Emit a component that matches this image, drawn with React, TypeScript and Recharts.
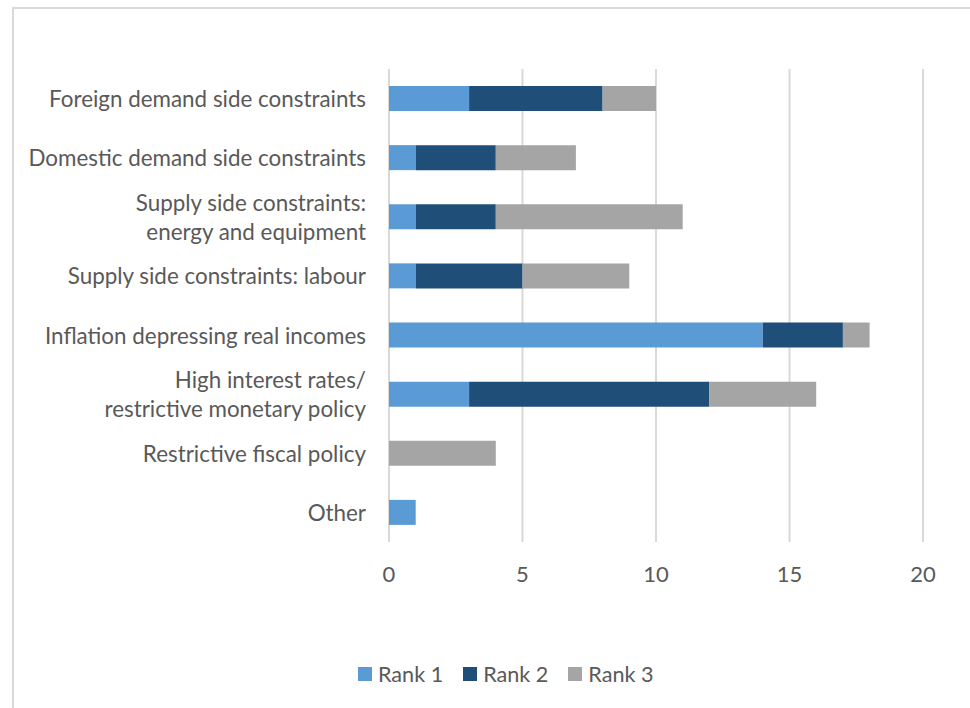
import { BarChart, Bar, XAxis, YAxis, CartesianGrid } from 'recharts';

const categories = [
  'Foreign demand side constraints',
  'Domestic demand side constraints',
  'Supply side constraints:\nenergy and equipment',
  'Supply side constraints: labour',
  'Inflation depressing real incomes',
  'High interest rates/\nrestrictive monetary policy',
  'Restrictive fiscal policy',
  'Other',
];

const rank1 = [3, 1, 1, 1, 14, 3, 0, 1];
const rank2 = [5, 3, 3, 4, 3, 9, 0, 0];
const rank3 = [2, 3, 7, 4, 1, 4, 4, 0];

const xTicks = [0, 5, 10, 15, 20];

const series = [
  { key: 'rank1', name: 'Rank 1', color: '#5B9BD5' },
  { key: 'rank2', name: 'Rank 2', color: '#1F4E79' },
  { key: 'rank3', name: 'Rank 3', color: '#A5A5A5' },
];

const data = categories.map((name, i) => ({
  name,
  rank1: rank1[i],
  rank2: rank2[i],
  rank3: rank3[i],
}));

const FONT = 'Lato, "Open Sans", sans-serif';
const TEXT = '#595959';
const FS = 22.4;

function CategoryTick({ x, y, payload }: { x?: number; y?: number; payload?: { value: string } }) {
  const lines = String(payload?.value ?? '').split('\n');
  const lineH = 29;
  const start = -((lines.length - 1) * lineH) / 2;
  return (
    <text x={x} y={y} textAnchor="end" fill={TEXT} fontSize={FS} fontFamily={FONT}>
      {lines.map((l, i) => (
        <tspan key={i} x={x} y={(y ?? 0) + start + i * lineH} dominantBaseline="central">
          {l}
        </tspan>
      ))}
    </text>
  );
}

export default function App() {
  return (
    <div style={{ position: 'absolute', left: 0, top: 0, width: 970, height: 708, overflow: 'hidden', background: '#fff' }}>
      <div
        style={{
          position: 'absolute',
          left: 12,
          top: 7,
          width: 980,
          height: 720,
          border: '2px solid #d9d9d9',
        }}
      />
      <BarChart
        width={970}
        height={708}
        data={data}
        layout="vertical"
        margin={{ top: 69, right: 47, bottom: 106, left: 0 }}
        barSize={25}
      >
        <CartesianGrid horizontal={false} stroke="#d9d9d9" strokeWidth={2} />
        <XAxis
          type="number"
          domain={[0, 20]}
          ticks={xTicks}
          height={60}
          axisLine={false}
          tickLine={false}
          tickSize={0}
          tickMargin={24}
          tick={{ fontSize: FS - 0.4, fill: TEXT, fontFamily: FONT }}
        />
        <YAxis
          type="category"
          dataKey="name"
          width={389}
          axisLine={false}
          tickLine={false}
          tickSize={0}
          tickMargin={23}
          interval={0}
          tick={<CategoryTick />}
        />
        {series.map((s) => (
          <Bar key={s.key} dataKey={s.key} name={s.name} stackId="a" fill={s.color} isAnimationActive={false} />
        ))}
      </BarChart>
      <div
        style={{
          position: 'absolute',
          left: 358,
          top: 660,
          display: 'flex',
          alignItems: 'center',
          fontFamily: FONT,
          fontSize: FS - 0.8,
          color: TEXT,
          lineHeight: '28px',
        }}
      >
        {series.map((s) => (
          <div key={s.key} style={{ display: 'flex', alignItems: 'center', marginRight: 20 }}>
            <span style={{ width: 14, height: 14, background: s.color, marginRight: 6, display: 'inline-block' }} />
            <span>{s.name}</span>
          </div>
        ))}
      </div>
    </div>
  );
}
